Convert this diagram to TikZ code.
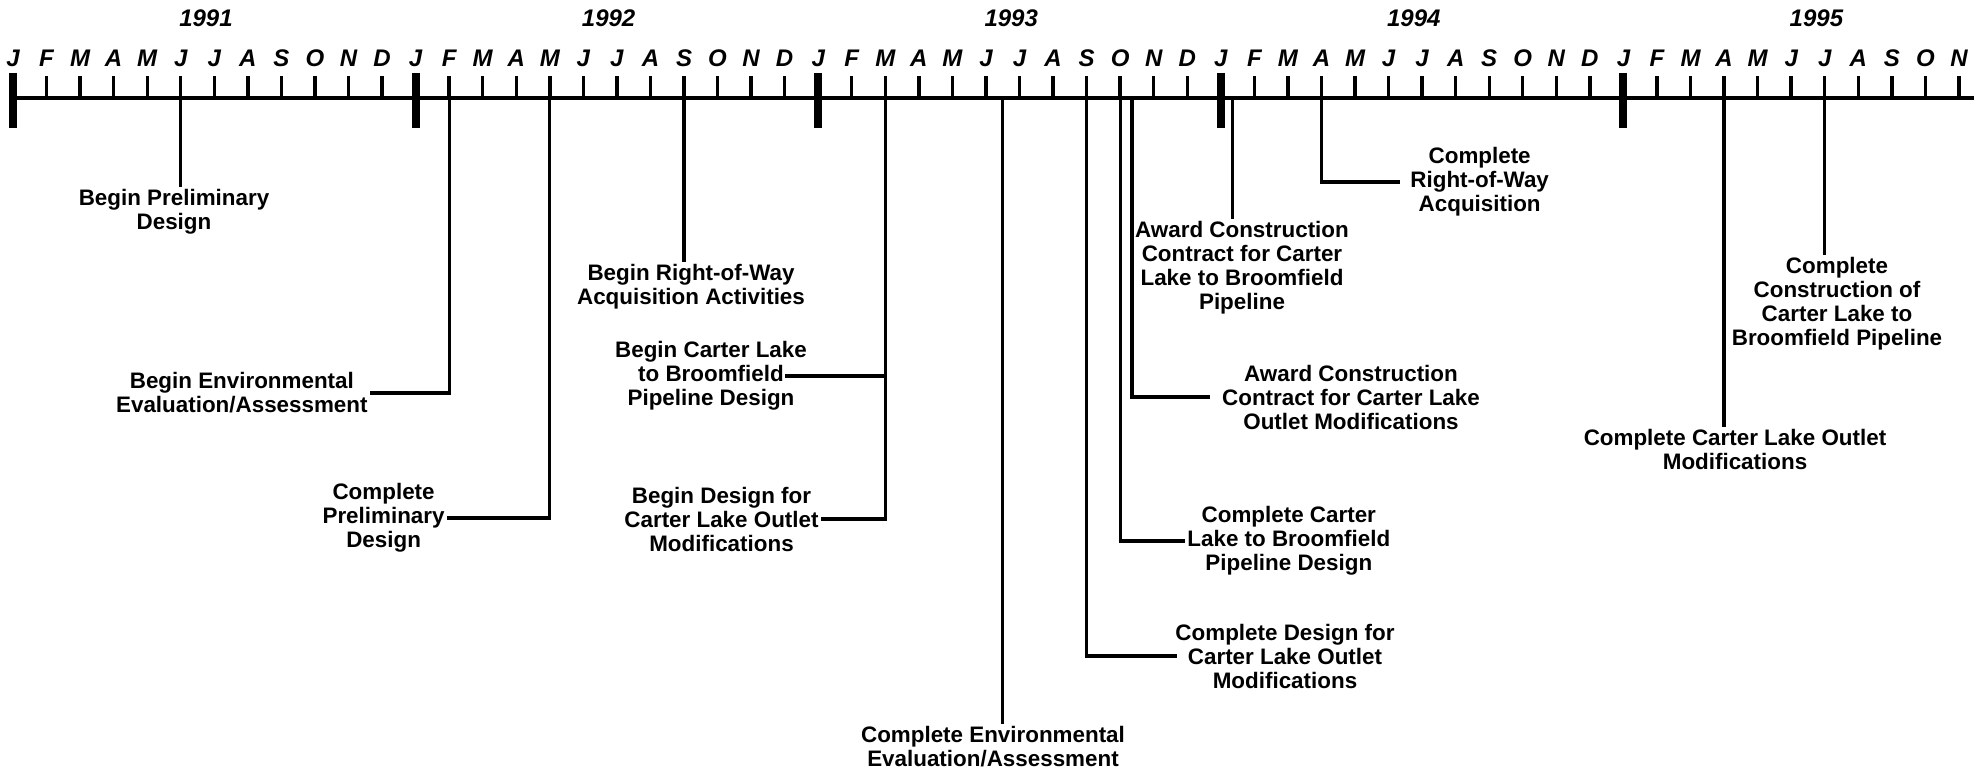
\documentclass[tikz,border=0pt]{standalone}
\usepackage{fontspec}
\setmainfont{Liberation Sans}

\begin{document}
\begin{tikzpicture}[x=0.5pt, y=-0.5pt,
                lbl/.style={font=\fontsize{11.2}{12}\selectfont\bfseries, align=center, inner sep=1pt},
                month/.style={font=\fontsize{12}{14}\selectfont\bfseries\itshape, inner sep=0pt},
                ms/.style={line width=1.6pt},
                mtick/.style={line width=1.7pt},
                ytick/.style={line width=4pt}
            ]
            \useasboundingbox (0,0) rectangle (1974,770);

            \draw[line width=2.4pt] (9,98) -- (1974,98);
            \foreach \m [count=\i from 0] in {J,F,M,A,M,J,J,A,S,O,N,D,
                                              J,F,M,A,M,J,J,A,S,O,N,D,
                                              J,F,M,A,M,J,J,A,S,O,N,D,
                                              J,F,M,A,M,J,J,A,S,O,N,D,
                                              J,F,M,A,M,J,J,A,S,O,N} {
                \coordinate (t\i) at ({13+33.55*\i},98);
                \draw[mtick] (t\i) -- ++(0,-22);
                \node[month] (m\i) at ({13+33.55*\i},58) {\m};
            }
            \foreach \yr [count=\j from 0] in {1991,1992,1993,1994,1995} {
                \draw[ytick] ({13+402.6*\j},73) -- ({13+402.6*\j},128);
                \node[month] (y\yr) at ({206+402.6*\j},18) {\yr};
            }
            \coordinate (t29h) at ({13+33.55*29.5},98);
            \coordinate (t33a) at ({13+33.55*33.35},98);
            \coordinate (t36a) at ({13+33.55*36.35},98);

            \node[lbl, anchor=north] (bpd) at (174,187) {Begin Preliminary\\Design};
            \draw[ms] (t5) -- (t5 |- bpd.north);

            \node[lbl, anchor=east] (eea) at (370,393) {Begin Environmental\\Evaluation/Assessment};
            \draw[ms] (t13) |- (eea.east);

            \node[lbl, anchor=east] (cpd) at (447,518) {Complete\\Preliminary\\Design};
            \draw[ms] (t16) |- (cpd.east);

            \node[lbl, anchor=north] (brw) at (691,262) {Begin Right-of-Way\\Acquisition Activities};
            \draw[ms] (t20) -- (t20 |- brw.north);

            \node[lbl] (bcl) at (711,376) {Begin Carter Lake\\to Broomfield\\Pipeline Design};
            \node[lbl, anchor=east] (bdo) at (821,519) {Begin Design for\\Carter Lake Outlet\\Modifications};
            \draw[ms] (t26) |- ([xshift=-12pt]bcl.east);
            \draw[ms] (t26) |- (bdo.east);

            \node[lbl, anchor=north] (cee) at (993,724) {Complete Environmental\\Evaluation/Assessment};
            \draw[ms] (t29h) -- (t29h |- cee.north);

            \node[lbl] (cdo) at (1285,656) {Complete Design for\\Carter Lake Outlet\\Modifications};
            \draw[ms] (t32) |- ([xshift=2pt]cdo.west);

            \node[lbl, anchor=west] (ccd) at (1185,541) {Complete Carter\\Lake to Broomfield\\Pipeline Design};
            \draw[ms] (t33) |- (ccd.west);

            \node[lbl] (aco) at (1351,397) {Award Construction\\Contract for Carter Lake\\Outlet Modifications};
            \draw[ms] (t33a) |- ([xshift=-5pt]aco.west);

            \node[lbl, anchor=north] (acp) at (1242,219) {Award Construction\\Contract for Carter\\Lake to Broomfield\\Pipeline};
            \draw[ms] (t36a) -- (t36a |- acp.north);

            \node[lbl, anchor=west] (crw) at (1408,182) {Complete\\Right-of-Way\\Acquisition};
            \draw[ms] (t39) |- ([xshift=-4pt]crw.west);

            \node[lbl, anchor=north] (cco) at (1735,427) {Complete Carter Lake Outlet\\Modifications};
            \draw[ms] (t51) -- (t51 |- cco.north);

            \node[lbl, anchor=north] (ccp) at (1837,255) {Complete\\Construction of\\Carter Lake to\\Broomfield Pipeline};
            \draw[ms] (t54) -- (t54 |- ccp.north);

            \end{tikzpicture}
\end{document}
